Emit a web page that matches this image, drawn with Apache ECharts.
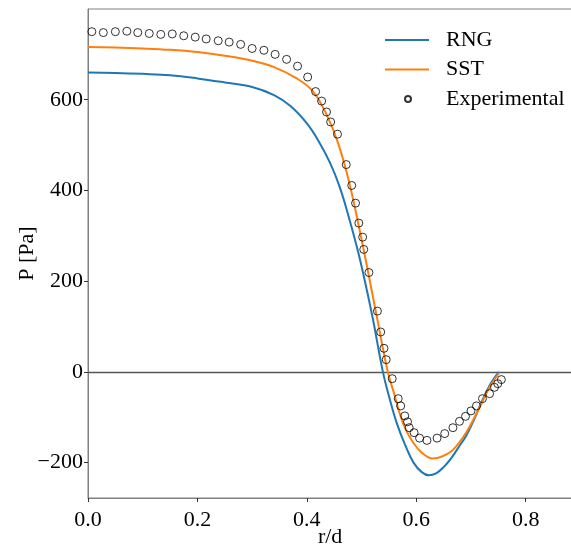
<!DOCTYPE html>
<html><head><meta charset="utf-8">
<script src="https://cdn.jsdelivr.net/npm/echarts@6/dist/echarts.min.js"></script>
<style>html,body{margin:0;padding:0;background:#fff}#c{width:571px;height:548px}</style>
</head><body><div id="c"></div>
<script>
const rngR = [0,0.05,0.1,0.15,0.2,0.25,0.3,0.34,0.37,0.40,0.42,0.442,0.46,0.477,0.493,0.507,0.521,0.539,0.552,0.565,0.58,0.595,0.61,0.623,0.637,0.65,0.664,0.678,0.6915,0.705,0.7158,0.734,0.751];
const rngP = [660,659,657,654,647,638,628,610,586,548,512,462,408,340,268,195,115,0,-62,-115,-162,-200,-221,-228,-223,-210,-190,-165,-140,-107,-76,-30,0];
const sstR = [0,0.05,0.10,0.15,0.20,0.25,0.30,0.34,0.38,0.41,0.435,0.457,0.478,0.504,0.528,0.548,0.56,0.5693,0.58,0.594,0.61,0.63,0.648,0.667,0.6915,0.7158,0.734,0.751];
const sstP = [716,715,713,710,705,697,686,672,648,620,570,505,415,268,121,0,-50,-90,-125,-155,-178,-191,-186,-172,-133,-78,-34,-3];
const expR = [0.007,0.028,0.050,0.071,0.091,0.112,0.133,0.154,0.175,0.196,0.216,0.238,0.258,0.279,0.300,0.3215,0.342,0.363,0.383,0.4015,0.416,0.427,0.436,0.4435,0.456,0.472,0.482,0.489,0.495,0.502,0.504,0.5135,0.529,0.535,0.541,0.545,0.556,0.567,0.5715,0.579,0.584,0.587,0.596,0.606,0.6195,0.638,0.652,0.667,0.679,0.690,0.700,0.710,0.721,0.734,0.743,0.749,0.7555];
const expP = [750,748,750,751,748,746,744,745,741,738,734,730,727,722,713,709,700,689,674,650,618,597,573,551,524,457,411,372,328,297,270,219,134,88,52,27,-15,-59,-75,-97,-110,-123,-134,-146,-151,-146,-136,-123,-109,-98,-86,-75,-59,-48,-34,-26,-17];
const xTicks = [0,0.2,0.4,0.6,0.8];
const yTicks = [-200,0,200,400,600];

const zip = (a,b) => a.map((v,i)=>[v,b[i]]);
const FONT = 'Liberation Serif';
const axisCol = '#808080';
const chart = echarts.init(document.getElementById('c'), null, {renderer:'canvas'});
chart.setOption({
  animation:false,
  backgroundColor:'#fff',
  grid:{left:88, top:9, width:484.2, height:489, show:true, borderColor:axisCol, borderWidth:1, backgroundColor:'transparent', outerBoundsMode:'none', containLabel:false},
  xAxis:{type:'value', min:0, max:0.885, name:'r/d', nameLocation:'middle', nameGap:28, nameMoveOverlap:false,
    nameTextStyle:{fontFamily:FONT, fontSize:22, color:'#000'},
    axisLine:{show:true, onZero:false, lineStyle:{color:axisCol, width:1}},
    axisTick:{show:true, length:4, customValues:xTicks, lineStyle:{color:'#333'}},
    axisLabel:{customValues:xTicks, fontFamily:FONT, fontSize:22, color:'#000', margin:11, formatter:v=>v.toFixed(1)},
    splitLine:{show:false}},
  yAxis:{type:'value', min:-278, max:800, name:'P [Pa]', nameLocation:'middle', nameGap:50, nameMoveOverlap:false,
    nameTextStyle:{fontFamily:FONT, fontSize:22, color:'#000'},
    axisLine:{show:true, onZero:false, lineStyle:{color:axisCol, width:1}},
    axisTick:{show:true, length:4, customValues:yTicks, lineStyle:{color:'#333'}},
    axisLabel:{customValues:yTicks, fontFamily:FONT, fontSize:22, color:'#000', margin:5, formatter:v=>v<0?'\u2212'+Math.abs(v):String(v)},
    splitLine:{show:false}},
  legend:[{
    data:[{name:'RNG', icon:'rect'},{name:'SST', icon:'rect'}], orient:'vertical', left:380, top:24, itemWidth:44, itemHeight:2, itemGap:7.5,
    textStyle:{fontFamily:FONT, fontSize:22, color:'#000', padding:[0,0,0,12]}
  },{
    data:[{name:'Experimental', icon:'circle'}], orient:'vertical', left:399, top:83, itemWidth:44, itemHeight:6,
    textStyle:{fontFamily:FONT, fontSize:22, color:'#000', padding:[0,0,0,11]}
  }],
  series:[
    {name:'RNG', type:'line', data:zip(rngR,rngP), smooth:0.4, symbol:'none',
     lineStyle:{color:'#1f77b4', width:2}, itemStyle:{color:'#1f77b4'}, z:2,
     markLine:{silent:true, symbol:'none', label:{show:false}, lineStyle:{color:'#555', type:'solid', width:1.3},
       data:[{yAxis:0}], z:1}},
    {name:'SST', type:'line', data:zip(sstR,sstP), smooth:0.4, symbol:'none',
     lineStyle:{color:'#ff7f0e', width:2}, itemStyle:{color:'#ff7f0e'}, z:3},
    {name:'Experimental', type:'scatter', data:zip(expR,expP), symbol:'circle', symbolSize:8,
     itemStyle:{color:'rgba(255,255,255,0)', borderColor:'#000', borderWidth:1}, z:4}
  ]
});
</script></body></html>
